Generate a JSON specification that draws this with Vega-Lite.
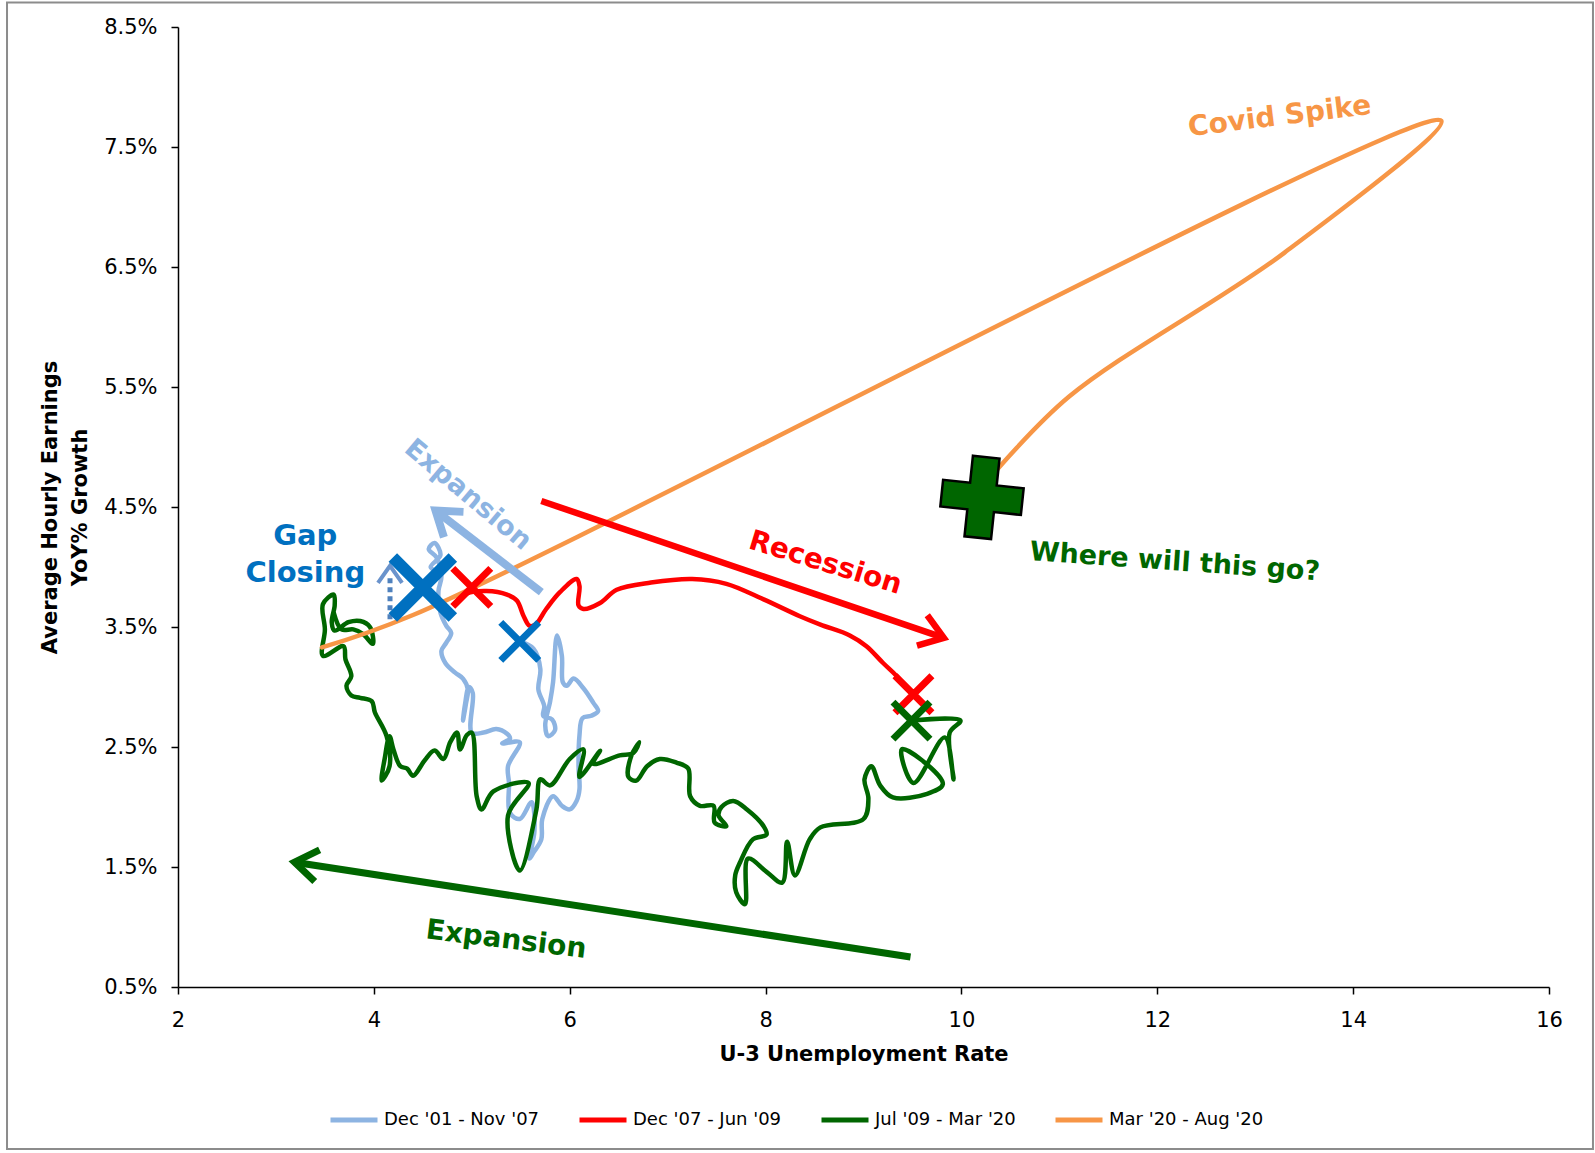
{
  "$schema": "https://vega.github.io/schema/vega-lite/v6.json",
  "width": 1371,
  "height": 960,
  "autosize": "none",
  "padding": {"left": 178, "top": 27, "right": 46, "bottom": 166},
  "background": "#ffffff",
  "config": {"view": {"stroke": null}, "font": "DejaVu Sans"},
  "layer": [
    {
      "data": {"values": [{}]},
      "mark": {"type": "rect", "fill": null, "stroke": "#8c8c8c", "strokeWidth": 2, "clip": false},
      "encoding": {
        "x": {"datum": 0.254, "type": "quantitative"},
        "x2": {"datum": 16.449},
        "y": {"datum": 8.704, "type": "quantitative"},
        "y2": {"datum": -0.849}
      }
    },
    {
      "data": {"values": [
        {"s":"Dec '01 - Nov '07","i":1,"u":5.49,"w":3.38},
        {"s":"Dec '01 - Nov '07","i":2,"u":5.63,"w":3.32},
        {"s":"Dec '01 - Nov '07","i":3,"u":5.70,"w":3.15},
        {"s":"Dec '01 - Nov '07","i":4,"u":5.68,"w":2.98},
        {"s":"Dec '01 - Nov '07","i":5,"u":5.74,"w":2.84},
        {"s":"Dec '01 - Nov '07","i":6,"u":5.73,"w":2.76},
        {"s":"Dec '01 - Nov '07","i":7,"u":5.82,"w":2.73},
        {"s":"Dec '01 - Nov '07","i":8,"u":5.85,"w":2.64},
        {"s":"Dec '01 - Nov '07","i":9,"u":5.78,"w":2.59},
        {"s":"Dec '01 - Nov '07","i":10,"u":5.75,"w":2.68},
        {"s":"Dec '01 - Nov '07","i":11,"u":5.80,"w":2.88},
        {"s":"Dec '01 - Nov '07","i":12,"u":5.83,"w":3.04},
        {"s":"Dec '01 - Nov '07","i":13,"u":5.87,"w":3.43},
        {"s":"Dec '01 - Nov '07","i":14,"u":5.92,"w":3.26},
        {"s":"Dec '01 - Nov '07","i":15,"u":5.93,"w":3.04},
        {"s":"Dec '01 - Nov '07","i":16,"u":5.97,"w":3.01},
        {"s":"Dec '01 - Nov '07","i":17,"u":6.04,"w":3.07},
        {"s":"Dec '01 - Nov '07","i":18,"u":6.14,"w":2.99},
        {"s":"Dec '01 - Nov '07","i":19,"u":6.24,"w":2.87},
        {"s":"Dec '01 - Nov '07","i":20,"u":6.29,"w":2.80},
        {"s":"Dec '01 - Nov '07","i":21,"u":6.22,"w":2.76},
        {"s":"Dec '01 - Nov '07","i":22,"u":6.13,"w":2.74},
        {"s":"Dec '01 - Nov '07","i":23,"u":6.10,"w":2.60},
        {"s":"Dec '01 - Nov '07","i":24,"u":6.09,"w":2.34},
        {"s":"Dec '01 - Nov '07","i":25,"u":6.10,"w":2.15},
        {"s":"Dec '01 - Nov '07","i":26,"u":6.07,"w":2.05},
        {"s":"Dec '01 - Nov '07","i":27,"u":6.00,"w":1.98},
        {"s":"Dec '01 - Nov '07","i":28,"u":5.92,"w":2.01},
        {"s":"Dec '01 - Nov '07","i":29,"u":5.83,"w":2.09},
        {"s":"Dec '01 - Nov '07","i":30,"u":5.72,"w":1.90},
        {"s":"Dec '01 - Nov '07","i":31,"u":5.71,"w":1.73},
        {"s":"Dec '01 - Nov '07","i":32,"u":5.63,"w":1.62},
        {"s":"Dec '01 - Nov '07","i":33,"u":5.59,"w":1.57},
        {"s":"Dec '01 - Nov '07","i":34,"u":5.64,"w":1.80},
        {"s":"Dec '01 - Nov '07","i":35,"u":5.61,"w":2.04},
        {"s":"Dec '01 - Nov '07","i":36,"u":5.49,"w":1.90},
        {"s":"Dec '01 - Nov '07","i":37,"u":5.39,"w":1.95},
        {"s":"Dec '01 - Nov '07","i":38,"u":5.38,"w":2.20},
        {"s":"Dec '01 - Nov '07","i":39,"u":5.37,"w":2.34},
        {"s":"Dec '01 - Nov '07","i":40,"u":5.49,"w":2.54},
        {"s":"Dec '01 - Nov '07","i":41,"u":5.31,"w":2.53},
        {"s":"Dec '01 - Nov '07","i":42,"u":5.39,"w":2.57},
        {"s":"Dec '01 - Nov '07","i":43,"u":5.36,"w":2.61},
        {"s":"Dec '01 - Nov '07","i":44,"u":5.25,"w":2.65},
        {"s":"Dec '01 - Nov '07","i":45,"u":5.12,"w":2.62},
        {"s":"Dec '01 - Nov '07","i":46,"u":5.00,"w":2.62},
        {"s":"Dec '01 - Nov '07","i":47,"u":5.01,"w":2.95},
        {"s":"Dec '01 - Nov '07","i":48,"u":4.97,"w":3.00},
        {"s":"Dec '01 - Nov '07","i":49,"u":4.93,"w":2.85},
        {"s":"Dec '01 - Nov '07","i":50,"u":4.91,"w":2.72},
        {"s":"Dec '01 - Nov '07","i":51,"u":4.94,"w":2.86},
        {"s":"Dec '01 - Nov '07","i":52,"u":4.96,"w":2.98},
        {"s":"Dec '01 - Nov '07","i":53,"u":4.91,"w":3.07},
        {"s":"Dec '01 - Nov '07","i":54,"u":4.83,"w":3.12},
        {"s":"Dec '01 - Nov '07","i":55,"u":4.73,"w":3.20},
        {"s":"Dec '01 - Nov '07","i":56,"u":4.69,"w":3.30},
        {"s":"Dec '01 - Nov '07","i":57,"u":4.74,"w":3.37},
        {"s":"Dec '01 - Nov '07","i":58,"u":4.79,"w":3.45},
        {"s":"Dec '01 - Nov '07","i":59,"u":4.74,"w":3.51},
        {"s":"Dec '01 - Nov '07","i":60,"u":4.68,"w":3.62},
        {"s":"Dec '01 - Nov '07","i":61,"u":4.66,"w":3.80},
        {"s":"Dec '01 - Nov '07","i":62,"u":4.69,"w":3.92},
        {"s":"Dec '01 - Nov '07","i":63,"u":4.64,"w":4.08},
        {"s":"Dec '01 - Nov '07","i":64,"u":4.56,"w":4.15},
        {"s":"Dec '01 - Nov '07","i":65,"u":4.62,"w":4.20},
        {"s":"Dec '01 - Nov '07","i":66,"u":4.68,"w":4.10},
        {"s":"Dec '01 - Nov '07","i":67,"u":4.58,"w":4.00},
        {"s":"Dec '01 - Nov '07","i":68,"u":4.63,"w":3.97},
        {"s":"Dec '07 - Jun '09","i":1,"u":5.00,"w":3.83},
        {"s":"Dec '07 - Jun '09","i":2,"u":4.88,"w":3.74},
        {"s":"Dec '07 - Jun '09","i":3,"u":4.95,"w":3.78},
        {"s":"Dec '07 - Jun '09","i":4,"u":5.15,"w":3.80},
        {"s":"Dec '07 - Jun '09","i":5,"u":5.36,"w":3.77},
        {"s":"Dec '07 - Jun '09","i":6,"u":5.46,"w":3.72},
        {"s":"Dec '07 - Jun '09","i":7,"u":5.53,"w":3.59},
        {"s":"Dec '07 - Jun '09","i":8,"u":5.59,"w":3.51},
        {"s":"Dec '07 - Jun '09","i":9,"u":5.65,"w":3.52},
        {"s":"Dec '07 - Jun '09","i":10,"u":5.76,"w":3.65},
        {"s":"Dec '07 - Jun '09","i":11,"u":5.90,"w":3.79},
        {"s":"Dec '07 - Jun '09","i":12,"u":6.07,"w":3.90},
        {"s":"Dec '07 - Jun '09","i":13,"u":6.10,"w":3.84},
        {"s":"Dec '07 - Jun '09","i":14,"u":6.09,"w":3.68},
        {"s":"Dec '07 - Jun '09","i":15,"u":6.14,"w":3.65},
        {"s":"Dec '07 - Jun '09","i":16,"u":6.31,"w":3.70},
        {"s":"Dec '07 - Jun '09","i":17,"u":6.48,"w":3.81},
        {"s":"Dec '07 - Jun '09","i":18,"u":6.83,"w":3.87},
        {"s":"Dec '07 - Jun '09","i":19,"u":7.25,"w":3.90},
        {"s":"Dec '07 - Jun '09","i":20,"u":7.60,"w":3.86},
        {"s":"Dec '07 - Jun '09","i":21,"u":7.98,"w":3.73},
        {"s":"Dec '07 - Jun '09","i":22,"u":8.35,"w":3.59},
        {"s":"Dec '07 - Jun '09","i":23,"u":8.56,"w":3.52},
        {"s":"Dec '07 - Jun '09","i":24,"u":8.86,"w":3.43},
        {"s":"Dec '07 - Jun '09","i":25,"u":9.03,"w":3.34},
        {"s":"Dec '07 - Jun '09","i":26,"u":9.20,"w":3.20},
        {"s":"Dec '07 - Jun '09","i":27,"u":9.34,"w":3.09},
        {"s":"Dec '07 - Jun '09","i":28,"u":9.44,"w":2.99},
        {"s":"Dec '07 - Jun '09","i":29,"u":9.51,"w":2.94},
        {"s":"Jul '09 - Mar '20","i":1,"u":9.49,"w":2.72},
        {"s":"Jul '09 - Mar '20","i":2,"u":9.99,"w":2.72},
        {"s":"Jul '09 - Mar '20","i":3,"u":9.88,"w":2.62},
        {"s":"Jul '09 - Mar '20","i":4,"u":9.92,"w":2.23},
        {"s":"Jul '09 - Mar '20","i":5,"u":9.83,"w":2.58},
        {"s":"Jul '09 - Mar '20","i":6,"u":9.51,"w":2.20},
        {"s":"Jul '09 - Mar '20","i":7,"u":9.39,"w":2.48},
        {"s":"Jul '09 - Mar '20","i":8,"u":9.58,"w":2.40},
        {"s":"Jul '09 - Mar '20","i":9,"u":9.81,"w":2.19},
        {"s":"Jul '09 - Mar '20","i":10,"u":9.65,"w":2.11},
        {"s":"Jul '09 - Mar '20","i":11,"u":9.30,"w":2.08},
        {"s":"Jul '09 - Mar '20","i":12,"u":9.17,"w":2.18},
        {"s":"Jul '09 - Mar '20","i":13,"u":9.08,"w":2.34},
        {"s":"Jul '09 - Mar '20","i":14,"u":9.01,"w":2.23},
        {"s":"Jul '09 - Mar '20","i":15,"u":9.05,"w":2.07},
        {"s":"Jul '09 - Mar '20","i":16,"u":9.00,"w":1.90},
        {"s":"Jul '09 - Mar '20","i":17,"u":8.56,"w":1.83},
        {"s":"Jul '09 - Mar '20","i":18,"u":8.45,"w":1.73},
        {"s":"Jul '09 - Mar '20","i":19,"u":8.30,"w":1.43},
        {"s":"Jul '09 - Mar '20","i":20,"u":8.22,"w":1.71},
        {"s":"Jul '09 - Mar '20","i":21,"u":8.17,"w":1.37},
        {"s":"Jul '09 - Mar '20","i":22,"u":8.01,"w":1.46},
        {"s":"Jul '09 - Mar '20","i":23,"u":7.82,"w":1.57},
        {"s":"Jul '09 - Mar '20","i":24,"u":7.79,"w":1.19},
        {"s":"Jul '09 - Mar '20","i":25,"u":7.70,"w":1.29},
        {"s":"Jul '09 - Mar '20","i":26,"u":7.69,"w":1.43},
        {"s":"Jul '09 - Mar '20","i":27,"u":7.74,"w":1.54},
        {"s":"Jul '09 - Mar '20","i":28,"u":7.87,"w":1.73},
        {"s":"Jul '09 - Mar '20","i":29,"u":8.01,"w":1.77},
        {"s":"Jul '09 - Mar '20","i":30,"u":7.98,"w":1.84},
        {"s":"Jul '09 - Mar '20","i":31,"u":7.81,"w":1.98},
        {"s":"Jul '09 - Mar '20","i":32,"u":7.67,"w":2.05},
        {"s":"Jul '09 - Mar '20","i":33,"u":7.55,"w":2.00},
        {"s":"Jul '09 - Mar '20","i":34,"u":7.52,"w":1.93},
        {"s":"Jul '09 - Mar '20","i":35,"u":7.60,"w":1.84},
        {"s":"Jul '09 - Mar '20","i":36,"u":7.48,"w":1.87},
        {"s":"Jul '09 - Mar '20","i":37,"u":7.47,"w":2.01},
        {"s":"Jul '09 - Mar '20","i":38,"u":7.33,"w":2.01},
        {"s":"Jul '09 - Mar '20","i":39,"u":7.23,"w":2.09},
        {"s":"Jul '09 - Mar '20","i":40,"u":7.21,"w":2.32},
        {"s":"Jul '09 - Mar '20","i":41,"u":7.09,"w":2.37},
        {"s":"Jul '09 - Mar '20","i":42,"u":6.92,"w":2.40},
        {"s":"Jul '09 - Mar '20","i":43,"u":6.79,"w":2.34},
        {"s":"Jul '09 - Mar '20","i":44,"u":6.68,"w":2.22},
        {"s":"Jul '09 - Mar '20","i":45,"u":6.60,"w":2.25},
        {"s":"Jul '09 - Mar '20","i":46,"u":6.63,"w":2.43},
        {"s":"Jul '09 - Mar '20","i":47,"u":6.71,"w":2.54},
        {"s":"Jul '09 - Mar '20","i":48,"u":6.65,"w":2.45},
        {"s":"Jul '09 - Mar '20","i":49,"u":6.51,"w":2.43},
        {"s":"Jul '09 - Mar '20","i":50,"u":6.24,"w":2.36},
        {"s":"Jul '09 - Mar '20","i":51,"u":6.31,"w":2.47},
        {"s":"Jul '09 - Mar '20","i":52,"u":6.10,"w":2.25},
        {"s":"Jul '09 - Mar '20","i":53,"u":6.14,"w":2.48},
        {"s":"Jul '09 - Mar '20","i":54,"u":6.00,"w":2.40},
        {"s":"Jul '09 - Mar '20","i":55,"u":5.80,"w":2.18},
        {"s":"Jul '09 - Mar '20","i":56,"u":5.70,"w":2.23},
        {"s":"Jul '09 - Mar '20","i":57,"u":5.66,"w":1.98},
        {"s":"Jul '09 - Mar '20","i":58,"u":5.49,"w":1.47},
        {"s":"Jul '09 - Mar '20","i":59,"u":5.37,"w":1.93},
        {"s":"Jul '09 - Mar '20","i":60,"u":5.58,"w":2.20},
        {"s":"Jul '09 - Mar '20","i":61,"u":5.22,"w":2.13},
        {"s":"Jul '09 - Mar '20","i":62,"u":5.10,"w":1.98},
        {"s":"Jul '09 - Mar '20","i":63,"u":5.05,"w":2.09},
        {"s":"Jul '09 - Mar '20","i":64,"u":5.00,"w":2.62},
        {"s":"Jul '09 - Mar '20","i":65,"u":4.95,"w":2.60},
        {"s":"Jul '09 - Mar '20","i":66,"u":4.88,"w":2.48},
        {"s":"Jul '09 - Mar '20","i":67,"u":4.85,"w":2.62},
        {"s":"Jul '09 - Mar '20","i":68,"u":4.78,"w":2.54},
        {"s":"Jul '09 - Mar '20","i":69,"u":4.71,"w":2.40},
        {"s":"Jul '09 - Mar '20","i":70,"u":4.62,"w":2.47},
        {"s":"Jul '09 - Mar '20","i":71,"u":4.52,"w":2.39},
        {"s":"Jul '09 - Mar '20","i":72,"u":4.40,"w":2.26},
        {"s":"Jul '09 - Mar '20","i":73,"u":4.34,"w":2.32},
        {"s":"Jul '09 - Mar '20","i":74,"u":4.27,"w":2.34},
        {"s":"Jul '09 - Mar '20","i":75,"u":4.20,"w":2.48},
        {"s":"Jul '09 - Mar '20","i":76,"u":4.16,"w":2.59},
        {"s":"Jul '09 - Mar '20","i":77,"u":4.11,"w":2.40},
        {"s":"Jul '09 - Mar '20","i":78,"u":4.08,"w":2.22},
        {"s":"Jul '09 - Mar '20","i":79,"u":4.16,"w":2.34},
        {"s":"Jul '09 - Mar '20","i":80,"u":4.13,"w":2.59},
        {"s":"Jul '09 - Mar '20","i":81,"u":4.01,"w":2.79},
        {"s":"Jul '09 - Mar '20","i":82,"u":3.98,"w":2.88},
        {"s":"Jul '09 - Mar '20","i":83,"u":3.86,"w":2.91},
        {"s":"Jul '09 - Mar '20","i":84,"u":3.77,"w":2.93},
        {"s":"Jul '09 - Mar '20","i":85,"u":3.72,"w":3.01},
        {"s":"Jul '09 - Mar '20","i":86,"u":3.77,"w":3.09},
        {"s":"Jul '09 - Mar '20","i":87,"u":3.71,"w":3.23},
        {"s":"Jul '09 - Mar '20","i":88,"u":3.69,"w":3.34},
        {"s":"Jul '09 - Mar '20","i":89,"u":3.48,"w":3.26},
        {"s":"Jul '09 - Mar '20","i":90,"u":3.50,"w":3.48},
        {"s":"Jul '09 - Mar '20","i":91,"u":3.48,"w":3.69},
        {"s":"Jul '09 - Mar '20","i":92,"u":3.59,"w":3.77},
        {"s":"Jul '09 - Mar '20","i":93,"u":3.60,"w":3.68},
        {"s":"Jul '09 - Mar '20","i":94,"u":3.57,"w":3.54},
        {"s":"Jul '09 - Mar '20","i":95,"u":3.60,"w":3.47},
        {"s":"Jul '09 - Mar '20","i":96,"u":3.74,"w":3.54},
        {"s":"Jul '09 - Mar '20","i":97,"u":3.86,"w":3.55},
        {"s":"Jul '09 - Mar '20","i":98,"u":3.96,"w":3.50},
        {"s":"Jul '09 - Mar '20","i":99,"u":3.99,"w":3.36},
        {"s":"Jul '09 - Mar '20","i":100,"u":3.89,"w":3.44},
        {"s":"Jul '09 - Mar '20","i":101,"u":3.79,"w":3.48},
        {"s":"Jul '09 - Mar '20","i":102,"u":3.67,"w":3.48},
        {"s":"Jul '09 - Mar '20","i":103,"u":3.59,"w":3.62},
        {"s":"Mar '20 - Aug '20","i":1,"u":3.47,"w":3.33},
        {"s":"Mar '20 - Aug '20","i":2,"u":4.40,"w":3.60},
        {"s":"Mar '20 - Aug '20","i":3,"u":14.90,"w":7.72},
        {"s":"Mar '20 - Aug '20","i":4,"u":13.30,"w":6.62},
        {"s":"Mar '20 - Aug '20","i":5,"u":11.10,"w":5.42},
        {"s":"Mar '20 - Aug '20","i":6,"u":10.30,"w":4.75}
      ]},
      "mark": {"type": "line", "interpolate": "catmull-rom", "strokeWidth": 4.5, "strokeCap": "round", "strokeJoin": "round"},
      "encoding": {
        "x": {
          "field": "u", "type": "quantitative",
          "scale": {"domain": [2, 16], "nice": false, "zero": false},
          "axis": {
            "title": "U-3 Unemployment Rate",
            "values": [2, 4, 6, 8, 10, 12, 14, 16],
            "format": "d", "grid": false, "labelFlush": false, "labelOverlap": false,
            "domainColor": "#000000", "domainWidth": 1.5,
            "tickColor": "#000000", "tickWidth": 1.5, "tickSize": 7,
            "labelFont": "DejaVu Sans", "labelFontSize": 21, "labelColor": "#000000", "labelPadding": 15,
            "titleFont": "DejaVu Sans", "titleFontSize": 21, "titleFontWeight": "bold", "titleColor": "#000000", "titlePadding": 13
          }
        },
        "y": {
          "field": "w", "type": "quantitative",
          "scale": {"domain": [0.5, 8.5], "nice": false, "zero": false},
          "axis": {
            "title": ["Average Hourly Earnings", "YoY% Growth"],
            "values": [0.5, 1.5, 2.5, 3.5, 4.5, 5.5, 6.5, 7.5, 8.5],
            "labelExpr": "format(datum.value, '.1f') + '%'",
            "grid": false, "labelFlush": false, "labelOverlap": false,
            "domainColor": "#000000", "domainWidth": 1.5,
            "tickColor": "#000000", "tickWidth": 1.5, "tickSize": 7,
            "labelFont": "DejaVu Sans", "labelFontSize": 21, "labelColor": "#000000", "labelPadding": 14,
            "titleFont": "DejaVu Sans", "titleFontSize": 21, "titleFontWeight": "bold", "titleColor": "#000000",
            "titlePadding": 13, "titleLineHeight": 30
          }
        },
        "color": {
          "field": "s", "type": "nominal",
          "scale": {
            "domain": ["Dec '01 - Nov '07", "Dec '07 - Jun '09", "Jul '09 - Mar '20", "Mar '20 - Aug '20"],
            "range": ["#8db4e2", "#ff0000", "#006600", "#f79646"]
          },
          "legend": {
            "orient": "none", "legendX": 150, "legendY": 1067, "direction": "horizontal",
            "title": null, "symbolType": "stroke", "symbolSize": 2209, "symbolStrokeWidth": 5,
            "labelFont": "DejaVu Sans", "labelFontSize": 18, "labelColor": "#000000",
            "columnPadding": 29, "labelOffset": 4, "padding": 0
          }
        },
        "order": {"field": "i", "type": "quantitative"}
      }
    },
    {
      "data": {"values": [{}]},
      "mark": {"type": "rule", "color": "#ff0000", "strokeWidth": 6.5},
      "encoding": {
        "x": {"datum": 5.71, "type": "quantitative"}, "x2": {"datum": 9.82},
        "y": {"datum": 4.55, "type": "quantitative"}, "y2": {"datum": 3.41}
      }
    },
    {
      "data": {"values": [{}]},
      "mark": {"type": "point", "shape": "M-1,-0.7L0,0L-1,0.7", "filled": false, "opacity": 1, "color": "#ff0000", "strokeWidth": 6.5, "size": 2100, "angle": 18.8},
      "encoding": {
        "x": {"datum": 9.82, "type": "quantitative"},
        "y": {"datum": 3.41, "type": "quantitative"}
      }
    },
    {
      "data": {"values": [{}]},
      "mark": {"type": "rule", "color": "#006600", "strokeWidth": 7},
      "encoding": {
        "x": {"datum": 9.48, "type": "quantitative"}, "x2": {"datum": 3.19},
        "y": {"datum": 0.75, "type": "quantitative"}, "y2": {"datum": 1.54}
      }
    },
    {
      "data": {"values": [{}]},
      "mark": {"type": "point", "shape": "M-1,-0.7L0,0L-1,0.7", "filled": false, "opacity": 1, "color": "#006600", "strokeWidth": 7, "size": 2100, "angle": 188.8},
      "encoding": {
        "x": {"datum": 3.19, "type": "quantitative"},
        "y": {"datum": 1.54, "type": "quantitative"}
      }
    },
    {
      "data": {"values": [{}]},
      "mark": {"type": "rule", "color": "#8db4e2", "strokeWidth": 8},
      "encoding": {
        "x": {"datum": 5.71, "type": "quantitative"}, "x2": {"datum": 4.63},
        "y": {"datum": 3.79, "type": "quantitative"}, "y2": {"datum": 4.47}
      }
    },
    {
      "data": {"values": [{}]},
      "mark": {"type": "point", "shape": "M-1,-0.7L0,0L-1,0.7", "filled": false, "opacity": 1, "color": "#8db4e2", "strokeWidth": 8, "size": 2100, "angle": 217.6},
      "encoding": {
        "x": {"datum": 4.63, "type": "quantitative"},
        "y": {"datum": 4.47, "type": "quantitative"}
      }
    },
    {
      "data": {"values": [{}]},
      "mark": {"type": "rule", "color": "#4f81bd", "strokeWidth": 5, "strokeDash": [5, 4]},
      "encoding": {
        "x": {"datum": 4.165, "type": "quantitative"}, "x2": {"datum": 4.165},
        "y": {"datum": 3.565, "type": "quantitative"}, "y2": {"datum": 3.93}
      }
    },
    {
      "data": {"values": [{}]},
      "mark": {"type": "point", "shape": "M-1,-0.7L0,0L-1,0.7", "filled": false, "opacity": 1, "color": "#6a93cc", "strokeWidth": 4, "size": 1180, "angle": -90},
      "encoding": {
        "x": {"datum": 4.165, "type": "quantitative"},
        "y": {"datum": 4.01, "type": "quantitative"}
      }
    },
    {
      "data": {"values": [{}]},
      "mark": {"type": "point", "shape": "M-1,-1L1,1M-1,1L1,-1", "filled": false, "opacity": 1, "color": "#0070c0", "strokeWidth": 12, "size": 3600},
      "encoding": {
        "x": {"datum": 4.5, "type": "quantitative"},
        "y": {"datum": 3.83, "type": "quantitative"}
      }
    },
    {
      "data": {"values": [{}]},
      "mark": {"type": "point", "shape": "M-1,-1L1,1M-1,1L1,-1", "filled": false, "opacity": 1, "color": "#0070c0", "strokeWidth": 7, "size": 1444},
      "encoding": {
        "x": {"datum": 5.49, "type": "quantitative"},
        "y": {"datum": 3.38, "type": "quantitative"}
      }
    },
    {
      "data": {"values": [{}]},
      "mark": {"type": "point", "shape": "M-1,-1L1,1M-1,1L1,-1", "filled": false, "opacity": 1, "color": "#ff0000", "strokeWidth": 7, "size": 1444},
      "encoding": {
        "x": {"datum": 5.0, "type": "quantitative"},
        "y": {"datum": 3.83, "type": "quantitative"}
      }
    },
    {
      "data": {"values": [{}]},
      "mark": {"type": "point", "shape": "M-1,-1L1,1M-1,1L1,-1", "filled": false, "opacity": 1, "color": "#ff0000", "strokeWidth": 7, "size": 1369},
      "encoding": {
        "x": {"datum": 9.51, "type": "quantitative"},
        "y": {"datum": 2.94, "type": "quantitative"}
      }
    },
    {
      "data": {"values": [{}]},
      "mark": {"type": "point", "shape": "M-1,-1L1,1M-1,1L1,-1", "filled": false, "opacity": 1, "color": "#006600", "strokeWidth": 7, "size": 1369},
      "encoding": {
        "x": {"datum": 9.49, "type": "quantitative"},
        "y": {"datum": 2.72, "type": "quantitative"}
      }
    },
    {
      "data": {"values": [{}]},
      "mark": {"type": "point", "shape": "M-0.33,-1L0.33,-1L0.33,-0.33L1,-0.33L1,0.33L0.33,0.33L0.33,1L-0.33,1L-0.33,0.33L-1,0.33L-1,-0.33L-0.33,-0.33Z", "filled": true, "opacity": 1, "fill": "#006600", "stroke": "#000000", "strokeWidth": 2.5, "size": 6561, "angle": 6},
      "encoding": {
        "x": {"datum": 10.21, "type": "quantitative"},
        "y": {"datum": 4.58, "type": "quantitative"}
      }
    },
    {
      "data": {"values": [{}]},
      "mark": {"type": "text", "text": "Covid Spike", "angle": -7, "font": "DejaVu Sans", "fontWeight": "bold", "fontSize": 28, "color": "#f79646", "align": "center", "baseline": "middle"},
      "encoding": {
        "x": {"datum": 13.25, "type": "quantitative"},
        "y": {"datum": 7.75, "type": "quantitative"}
      }
    },
    {
      "data": {"values": [{}]},
      "mark": {"type": "text", "text": "Recession", "angle": 17, "font": "DejaVu Sans", "fontWeight": "bold", "fontSize": 28, "color": "#ff0000", "align": "center", "baseline": "middle"},
      "encoding": {
        "x": {"datum": 8.61, "type": "quantitative"},
        "y": {"datum": 4.03, "type": "quantitative"}
      }
    },
    {
      "data": {"values": [{}]},
      "mark": {"type": "text", "text": "Where will this go?", "angle": 4, "font": "DejaVu Sans", "fontWeight": "bold", "fontSize": 27, "color": "#006600", "align": "center", "baseline": "middle"},
      "encoding": {
        "x": {"datum": 12.18, "type": "quantitative"},
        "y": {"datum": 4.04, "type": "quantitative"}
      }
    },
    {
      "data": {"values": [{}]},
      "mark": {"type": "text", "text": "Expansion", "angle": 40, "font": "DejaVu Sans", "fontWeight": "bold", "fontSize": 27, "color": "#8db4e2", "align": "center", "baseline": "middle"},
      "encoding": {
        "x": {"datum": 4.96, "type": "quantitative"},
        "y": {"datum": 4.60, "type": "quantitative"}
      }
    },
    {
      "data": {"values": [{}]},
      "mark": {"type": "text", "text": "Expansion", "angle": 7, "font": "DejaVu Sans", "fontWeight": "bold", "fontSize": 28, "color": "#006600", "align": "center", "baseline": "middle"},
      "encoding": {
        "x": {"datum": 5.35, "type": "quantitative"},
        "y": {"datum": 0.89, "type": "quantitative"}
      }
    },
    {
      "data": {"values": [{}]},
      "mark": {"type": "text", "text": "Gap", "font": "DejaVu Sans", "fontWeight": "bold", "fontSize": 29, "color": "#0070c0", "align": "center", "baseline": "middle"},
      "encoding": {
        "x": {"datum": 3.30, "type": "quantitative"},
        "y": {"datum": 4.26, "type": "quantitative"}
      }
    },
    {
      "data": {"values": [{}]},
      "mark": {"type": "text", "text": "Closing", "font": "DejaVu Sans", "fontWeight": "bold", "fontSize": 29, "color": "#0070c0", "align": "center", "baseline": "middle"},
      "encoding": {
        "x": {"datum": 3.30, "type": "quantitative"},
        "y": {"datum": 3.95, "type": "quantitative"}
      }
    }
  ]
}
